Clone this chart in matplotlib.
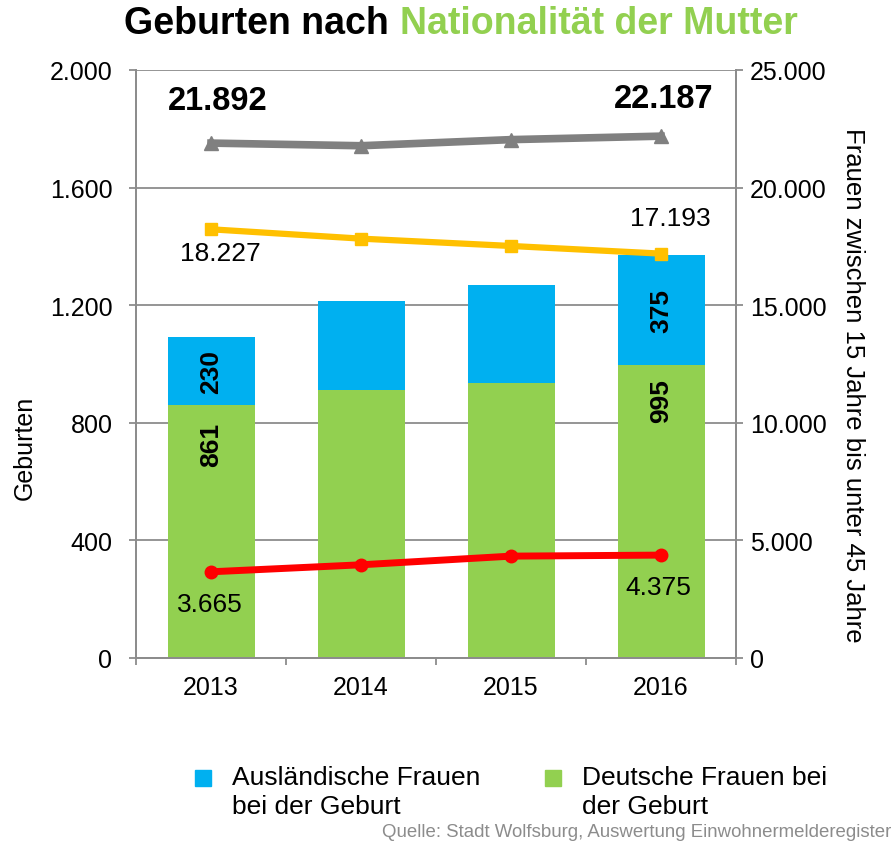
import matplotlib
matplotlib.use("Agg")
import matplotlib.pyplot as plt
from matplotlib.patches import Rectangle
from matplotlib.ticker import FuncFormatter, FixedLocator

plt.rcParams["font.family"] = ["Liberation Sans", "DejaVu Sans"]

years = ["2013", "2014", "2015", "2016"]
deutsche = [861, 911, 935, 995]
auslaendische = [230, 302, 335, 375]
frauen_gesamt = [21892, 21780, 22040, 22187]
frauen_deutsch = [18227, 17830, 17518, 17193]
frauen_ausl = [3665, 3963, 4331, 4375]

BLUE = "#00b0f0"
GREEN = "#92d050"
GREY = "#808080"
YELLOW = "#ffc000"
RED = "#ff0000"
GRID = "#8c8c8c"


def de_fmt(v, _=None):
    return f"{v:,.0f}".replace(",", ".")


fig = plt.figure(figsize=(8.93, 8.45), dpi=100)
ax = fig.add_axes([136 / 893, 186 / 845, 600 / 893, 588 / 845])
ax2 = ax.twinx()

x = list(range(len(years)))
ax.bar(x, deutsche, width=0.58, color=GREEN, zorder=2)
ax.bar(x, auslaendische, width=0.58, bottom=deutsche, color=BLUE, zorder=2)

ax.set_ylim(0, 2000)
ax.set_xlim(-0.5, len(years) - 0.5)
ax.set_yticks(range(0, 2001, 400))
ax.yaxis.set_major_formatter(FuncFormatter(de_fmt))
ax.grid(axis="y", color=GRID, linewidth=1.3, zorder=0)
ax.set_axisbelow(True)
ax.set_xticks(x)
ax.set_xticklabels(years)
ax.xaxis.set_minor_locator(FixedLocator([i - 0.5 for i in range(len(years) + 1)]))
ax.tick_params(axis="x", which="major", length=0, labelsize=18, pad=12)
ax.tick_params(axis="x", which="minor", length=5, color=GRID, width=1.3)
ax.tick_params(axis="y", labelsize=18, length=5, pad=12, color=GRID, width=1.3)
for s in ax.spines.values():
    s.set_color(GRID)
    s.set_linewidth(1.3)
ax.spines["top"].set_visible(False)
ax.set_ylabel("Geburten", fontsize=18)
ax.yaxis.set_label_coords(-0.165, 0.359)

# bar labels (first and last year only)
for i in (0, len(x) - 1):
    ax.annotate(str(deutsche[i]), (x[i], deutsche[i]), xytext=(0, -12 if i == 0 else -9),
                textcoords="offset points", rotation=90, ha="center", va="top",
                fontsize=19, fontweight="bold")
    ax.text(x[i], deutsche[i] + auslaendische[i] / 2, str(auslaendische[i]), rotation=90,
            ha="center", va="center", fontsize=19, fontweight="bold")

ax2.plot(x, frauen_gesamt, color=GREY, lw=5.5, marker="^", ms=10, zorder=3)
ax2.plot(x, frauen_deutsch, color=YELLOW, lw=4.5, marker="s", ms=9, zorder=3)
ax2.plot(x, frauen_ausl, color=RED, lw=5, marker="o", ms=9, zorder=3)
ax2.set_ylim(0, 25000)
ax2.set_yticks(range(0, 25001, 5000))
ax2.yaxis.set_major_formatter(FuncFormatter(de_fmt))
ax2.tick_params(axis="y", labelsize=18, length=5, pad=5, color=GRID, width=1.3)
for s in ax2.spines.values():
    s.set_color(GRID)
    s.set_linewidth(1.3)
ax2.spines["top"].set_visible(False)
ax2.set_ylabel("Frauen zwischen 15 Jahre bis unter 45 Jahre", fontsize=18.5, rotation=270)
ax2.yaxis.set_label_coords(1.215, 0.466)

# line labels
lab = dict(textcoords="offset points", ha="center", va="center")
ax2.annotate(de_fmt(frauen_gesamt[0]), (x[0], frauen_gesamt[0]), xytext=(5, 31),
             fontsize=23.5, fontweight="bold", **lab)
ax2.annotate(de_fmt(frauen_gesamt[-1]), (x[-1], frauen_gesamt[-1]), xytext=(2, 27),
             fontsize=23.5, fontweight="bold", **lab)
ax2.annotate(de_fmt(frauen_deutsch[0]), (x[0], frauen_deutsch[0]), xytext=(7, -17),
             fontsize=19, **lab)
ax2.annotate(de_fmt(frauen_deutsch[-1]), (x[-1], frauen_deutsch[-1]), xytext=(7, 26),
             fontsize=19, **lab)
ax2.annotate(de_fmt(frauen_ausl[0]), (x[0], frauen_ausl[0]), xytext=(-1, -23),
             fontsize=19, **lab)
ax2.annotate(de_fmt(frauen_ausl[-1]), (x[-1], frauen_ausl[-1]), xytext=(-2, -23),
             fontsize=19, **lab)

# title in two colours
ty = 1 - 24 / 845
t1 = fig.text(0.5, ty, "Geburten nach ", ha="right", va="center",
              fontsize=27, fontweight="bold", color="black")
t2 = fig.text(0.5, ty, "Nationalität der Mutter", ha="left", va="center",
              fontsize=27, fontweight="bold", color=GREEN)
fig.canvas.draw()
r = fig.canvas.get_renderer()
w1 = t1.get_window_extent(r).width
w2 = t2.get_window_extent(r).width
shift = (w1 - w2) / 2 / fig.bbox.width + (461 - 446.5) / 893
t1.set_x(0.5 + shift)
t2.set_x(0.5 + shift)

# legend
for lx, col, txt in [(195, BLUE, "Ausländische Frauen\nbei der Geburt"),
                     (545, GREEN, "Deutsche Frauen bei\nder Geburt")]:
    fig.add_artist(Rectangle((lx / 893, 1 - 787 / 845), 16 / 893, 16 / 845,
                             transform=fig.transFigure, color=col))
    fig.text((lx + 37) / 893, 1 - 766 / 845, txt, ha="left", va="top",
             fontsize=19, linespacing=1.25)

fig.text(1 - 2 / 893, 1 - 833 / 845, "Quelle: Stadt Wolfsburg, Auswertung Einwohnermelderegister",
         ha="right", va="center", fontsize=13.4, color="#8c8c8c")

fig.savefig("out.png", dpi=100)
